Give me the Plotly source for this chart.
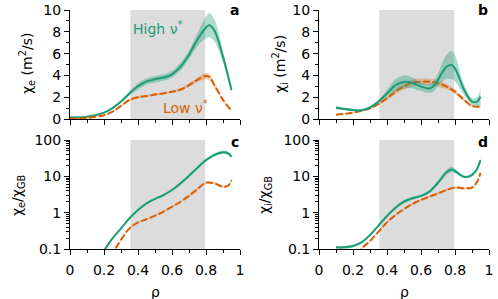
import plotly.graph_objects as go

# ---------------- data ----------------
rho_a_hi = [0.0, 0.1, 0.2, 0.25, 0.3, 0.35, 0.4, 0.45, 0.5, 0.55, 0.6, 0.65, 0.7, 0.75, 0.8, 0.82, 0.85, 0.9, 0.95]
chie_hi = [0.15, 0.2, 0.58, 1.0, 1.6, 2.35, 3.0, 3.45, 3.65, 3.8, 4.1, 4.8, 5.9, 7.3, 8.4, 8.6, 8.1, 5.7, 2.66]
chie_hi_err = [0.05, 0.05, 0.05, 0.08, 0.1, 0.2, 0.3, 0.3, 0.3, 0.3, 0.3, 0.35, 0.4, 0.6, 1.0, 1.1, 1.0, 0.5, 0.3]
rho_a_lo = [0.0, 0.1, 0.2, 0.25, 0.3, 0.35, 0.4, 0.45, 0.5, 0.55, 0.6, 0.65, 0.7, 0.75, 0.8, 0.82, 0.85, 0.9, 0.95]
chie_lo = [0.03, 0.1, 0.35, 0.67, 1.2, 1.75, 2.0, 2.1, 2.25, 2.35, 2.5, 2.7, 3.1, 3.6, 3.95, 3.85, 3.1, 1.75, 0.76]
chie_lo_err = [0.02, 0.03, 0.05, 0.05, 0.08, 0.1, 0.1, 0.1, 0.1, 0.1, 0.1, 0.12, 0.15, 0.2, 0.3, 0.3, 0.2, 0.1, 0.08]

rho_b = [0.1, 0.15, 0.2, 0.25, 0.3, 0.35, 0.4, 0.45, 0.5, 0.55, 0.6, 0.65, 0.68, 0.7, 0.75, 0.78, 0.8, 0.85, 0.9, 0.93, 0.95]
chii_hi = [1.04, 0.92, 0.83, 0.8, 1.07, 1.6, 2.35, 3.1, 3.4, 3.3, 2.97, 2.8, 3.1, 3.6, 4.8, 4.95, 4.65, 2.8, 1.6, 1.6, 2.05]
chii_hi_err = [0.15, 0.12, 0.1, 0.1, 0.1, 0.15, 0.3, 0.55, 0.6, 0.5, 0.4, 0.4, 0.5, 0.6, 1.1, 1.3, 1.2, 0.5, 0.3, 0.4, 0.8]
rho_b_lo = [0.1, 0.2, 0.3, 0.35, 0.4, 0.45, 0.5, 0.55, 0.6, 0.65, 0.7, 0.75, 0.8, 0.85, 0.9, 0.95]
chii_lo = [0.4, 0.58, 0.98, 1.38, 1.9, 2.5, 3.0, 3.33, 3.42, 3.42, 3.27, 2.97, 2.5, 1.8, 1.2, 1.13]
chii_lo_err = [0.05, 0.05, 0.08, 0.1, 0.15, 0.25, 0.3, 0.3, 0.3, 0.3, 0.3, 0.25, 0.2, 0.15, 0.1, 0.1]

rho_c_hi = [0.15, 0.206, 0.25, 0.3, 0.35, 0.4, 0.45, 0.5, 0.55, 0.6, 0.65, 0.7, 0.75, 0.8, 0.85, 0.9, 0.93, 0.95]
chie_gb_hi = [0.045, 0.1, 0.196, 0.37, 0.70, 1.18, 1.8, 2.4, 3.06, 4.2, 6.4, 10.4, 17.3, 28, 39, 46, 43, 35]
chie_gb_hi_f = [1.05, 1.05, 1.05, 1.05, 1.05, 1.06, 1.06, 1.06, 1.06, 1.07, 1.07, 1.08, 1.08, 1.1, 1.12, 1.12, 1.12, 1.12]
rho_c_lo = [0.2, 0.265, 0.3, 0.35, 0.4, 0.45, 0.5, 0.55, 0.6, 0.65, 0.7, 0.75, 0.8, 0.85, 0.9, 0.93, 0.95]
chie_gb_lo = [0.04, 0.1, 0.18, 0.37, 0.54, 0.66, 0.83, 1.07, 1.46, 2.0, 2.9, 4.5, 6.7, 6.4, 5.2, 5.5, 7.9]
chie_gb_lo_f = [1.04, 1.04, 1.04, 1.04, 1.04, 1.04, 1.04, 1.04, 1.05, 1.05, 1.05, 1.06, 1.07, 1.07, 1.07, 1.07, 1.07]

rho_d_hi = [0.1, 0.15, 0.2, 0.25, 0.3, 0.35, 0.4, 0.45, 0.5, 0.55, 0.6, 0.65, 0.7, 0.75, 0.78, 0.8, 0.85, 0.88, 0.92, 0.95]
chii_gb_hi = [0.111, 0.111, 0.121, 0.153, 0.243, 0.44, 0.81, 1.37, 2.0, 2.5, 2.9, 3.8, 6.7, 12.9, 15.5, 14, 9.8, 9.8, 13.5, 28]
chii_gb_hi_f = [1.1, 1.1, 1.1, 1.08, 1.07, 1.07, 1.08, 1.1, 1.12, 1.1, 1.08, 1.1, 1.15, 1.18, 1.18, 1.15, 1.1, 1.1, 1.12, 1.15]
rho_d_lo = [0.2, 0.25, 0.3, 0.35, 0.4, 0.45, 0.5, 0.55, 0.6, 0.65, 0.7, 0.75, 0.8, 0.85, 0.9, 0.93, 0.95]
chii_gb_lo = [0.04, 0.1, 0.166, 0.30, 0.54, 0.86, 1.26, 1.74, 2.24, 2.76, 3.4, 4.2, 4.9, 4.7, 4.9, 7.1, 12.6]
chii_gb_lo_f = [1.04, 1.04, 1.04, 1.04, 1.05, 1.05, 1.05, 1.05, 1.05, 1.06, 1.07, 1.08, 1.08, 1.08, 1.08, 1.08, 1.08]

shade_range = [0.355, 0.795]
lin_ticks = [0, 2, 4, 6, 8, 10]
log_ticks = [0.1, 1, 10, 100]
log_ticklabels = ["0.1", "1", "10", "100"]
x_ticks = [0, 0.2, 0.4, 0.6, 0.8, 1]
x_ticklabels = ["0", "0.2", "0.4", "0.6", "0.8", "1"]

GREEN = "#1b9e77"
ORANGE = "#d95f02"
GREEN_FILL = "rgba(27,158,119,0.36)"
ORANGE_FILL = "rgba(217,95,2,0.30)"
FONT = "DejaVu Sans"

W, H = 498, 299


def px_x(p):
    return p / W


def px_y(p):
    return 1 - p / H


fig = go.Figure()


def add_series(x, y, lo, hi, xa, ya, color, fill, dash):
    fig.add_trace(go.Scatter(x=x, y=hi, mode="lines", line=dict(width=0, shape="spline", smoothing=1),
                             xaxis=xa, yaxis=ya, showlegend=False, hoverinfo="skip"))
    fig.add_trace(go.Scatter(x=x, y=lo, mode="lines", line=dict(width=0, shape="spline", smoothing=1),
                             fill="tonexty", fillcolor=fill,
                             xaxis=xa, yaxis=ya, showlegend=False, hoverinfo="skip"))
    fig.add_trace(go.Scatter(x=x, y=y, mode="lines",
                             line=dict(color=color, width=2, dash=dash, shape="spline", smoothing=1),
                             xaxis=xa, yaxis=ya, showlegend=False))


def lin_band(v, e):
    return [a - b for a, b in zip(v, e)], [a + b for a, b in zip(v, e)]


def log_band(v, f):
    return [a / b for a, b in zip(v, f)], [a * b for a, b in zip(v, f)]


DASH = "7px,2.5px"
# panel a
lo, hi = lin_band(chie_hi, chie_hi_err)
add_series(rho_a_hi, chie_hi, lo, hi, "x", "y", GREEN, GREEN_FILL, "solid")
lo, hi = lin_band(chie_lo, chie_lo_err)
add_series(rho_a_lo, chie_lo, lo, hi, "x", "y", ORANGE, ORANGE_FILL, DASH)
# panel b
lo, hi = lin_band(chii_lo, chii_lo_err)
add_series(rho_b_lo, chii_lo, lo, hi, "x2", "y2", ORANGE, ORANGE_FILL, DASH)
lo, hi = lin_band(chii_hi, chii_hi_err)
add_series(rho_b, chii_hi, lo, hi, "x2", "y2", GREEN, GREEN_FILL, "solid")
# panel c
lo, hi = log_band(chie_gb_hi, chie_gb_hi_f)
add_series(rho_c_hi, chie_gb_hi, lo, hi, "x3", "y3", GREEN, GREEN_FILL, "solid")
lo, hi = log_band(chie_gb_lo, chie_gb_lo_f)
add_series(rho_c_lo, chie_gb_lo, lo, hi, "x3", "y3", ORANGE, ORANGE_FILL, DASH)
# panel d
lo, hi = log_band(chii_gb_hi, chii_gb_hi_f)
add_series(rho_d_hi, chii_gb_hi, lo, hi, "x4", "y4", GREEN, GREEN_FILL, "solid")
lo, hi = log_band(chii_gb_lo, chii_gb_lo_f)
add_series(rho_d_lo, chii_gb_lo, lo, hi, "x4", "y4", ORANGE, ORANGE_FILL, DASH)

xdom_l = [px_x(70), px_x(240)]
xdom_r = [px_x(319), px_x(489)]
ydom_t = [px_y(119), px_y(10)]
ydom_b = [px_y(249), px_y(140)]

tickfont = dict(family=FONT, size=14, color="black")
common_axis = dict(showline=True, linecolor="black", linewidth=1, ticks="outside", ticklen=5,
                   tickwidth=1, tickcolor="black", showgrid=False, zeroline=False, tickfont=tickfont,
                   automargin=False)

xminor = dict(ticks="outside", ticklen=3, tickwidth=1, tickcolor="black", dtick=0.1, tick0=0, showgrid=False)
linminor = dict(ticks="outside", ticklen=3, tickwidth=1, tickcolor="black", dtick=1, tick0=0, showgrid=False)
log_minor_vals = [m * d for d in (0.1, 1, 10) for m in range(2, 10)]
logminor = dict(ticks="outside", ticklen=3, tickwidth=1, tickcolor="black", tickmode="array",
                tickvals=log_minor_vals, showgrid=False)

for name, dom, anchor, showlab in [("xaxis", xdom_l, "y", False), ("xaxis2", xdom_r, "y2", False),
                                   ("xaxis3", xdom_l, "y3", True), ("xaxis4", xdom_r, "y4", True)]:
    fig.update_layout({name: dict(common_axis, domain=dom, anchor=anchor, range=[0, 1],
                                  tickmode="array", tickvals=x_ticks, ticktext=x_ticklabels,
                                  showticklabels=showlab, minor=xminor, ticklabelstandoff=3)})

for name, dom, anchor in [("yaxis", ydom_t, "x"), ("yaxis2", ydom_t, "x2")]:
    fig.update_layout({name: dict(common_axis, domain=dom, anchor=anchor, range=[0, 10],
                                  tickmode="array", tickvals=lin_ticks, minor=linminor)})

for name, dom, anchor in [("yaxis3", ydom_b, "x3"), ("yaxis4", ydom_b, "x4")]:
    fig.update_layout({name: dict(common_axis, domain=dom, anchor=anchor, type="log", range=[-1, 2],
                                  tickmode="array", tickvals=log_ticks, ticktext=log_ticklabels,
                                  minor=logminor)})

# shaded region
for xr, yr in [("x", "y"), ("x2", "y2"), ("x3", "y3"), ("x4", "y4")]:
    fig.add_shape(type="rect", xref=xr, yref=yr + " domain", x0=shade_range[0], x1=shade_range[1],
                  y0=0, y1=1, fillcolor="#dcdcdc", line=dict(width=0), layer="below")

ann = []
# y titles
for txt, xp, yp in [("χ<sub>e</sub> (m<sup>2</sup>/s)", 27, 64), ("χ<sub>i</sub> (m<sup>2</sup>/s)", 280, 64),
                    ("χ<sub>e</sub>/χ<sub>GB</sub>", 18, 195), ("χ<sub>i</sub>/χ<sub>GB</sub>", 265, 195)]:
    ann.append(dict(text=txt, x=px_x(xp), y=px_y(yp), xref="paper", yref="paper", showarrow=False,
                    textangle=-90, xanchor="center", yanchor="middle",
                    font=dict(family=FONT, size=14, color="black")))
# x titles
for xp in (155, 404):
    ann.append(dict(text="ρ", x=px_x(xp), y=px_y(292), xref="paper", yref="paper", showarrow=False,
                    xanchor="center", yanchor="middle", font=dict(family=FONT, size=14, color="black")))
# panel letters
for txt, xp, yp in [("a", 241, 10), ("b", 490, 10), ("c", 241, 142), ("d", 490, 142)]:
    ann.append(dict(text="<b>" + txt + "</b>", x=px_x(xp), y=px_y(yp), xref="paper", yref="paper",
                    showarrow=False, xanchor="right", yanchor="middle",
                    font=dict(family=FONT, size=14, color="black")))
# series labels
ann.append(dict(text="High ν<sup>*</sup>", x=0.36, y=8.35, xref="x", yref="y", showarrow=False,
                xanchor="left", yanchor="middle", font=dict(family=FONT, size=14, color=GREEN)))
ann.append(dict(text="Low ν<sup>*</sup>", x=0.535, y=1.1, xref="x", yref="y", showarrow=False,
                xanchor="left", yanchor="middle", font=dict(family=FONT, size=14, color=ORANGE)))

fig.update_layout(width=W, height=H, margin=dict(l=0, r=0, t=0, b=0),
                  paper_bgcolor="white", plot_bgcolor="white", showlegend=False,
                  annotations=ann, font=dict(family=FONT, size=14, color="black"))

fig.write_html("out.html", config={"displayModeBar": False},
               post_script="document.body.style.margin='0';document.body.style.overflow='hidden';")
